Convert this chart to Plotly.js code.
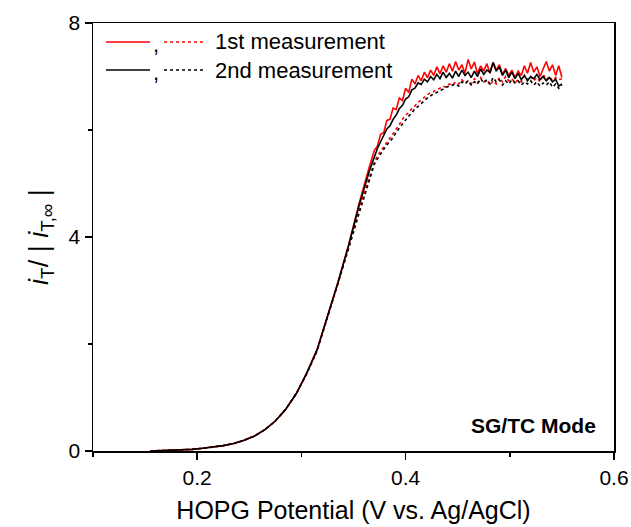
<!DOCTYPE html>
<html>
<head>
<meta charset="utf-8">
<script src="https://cdn.plot.ly/plotly-3.0.1.min.js"></script>
<style>html,body{margin:0;padding:0;background:#fff;}#chart{width:631px;height:527px;}</style>
</head>
<body>
<div id="chart"></div>
<script>
// HOPG potential (V vs. Ag/AgCl)
const potential = [
  0.155,0.165,0.175,0.185,0.195,0.205,0.215,0.225,0.235,0.245,0.255,0.265,0.275,0.285,0.295,0.305,0.315,0.325,0.335,0.345,0.355,0.365,
  0.370,0.373,0.376,0.379,0.382,0.385,0.388,0.391,0.394,0.397,0.400,0.403,0.406,0.409,0.412,0.415,0.418,0.421,0.424,0.427,
  0.430,0.433,0.436,0.439,0.442,0.445,0.448,0.451,0.454,0.457,0.460,0.463,0.466,0.469,0.472,0.475,0.478,0.481,0.484,0.487,
  0.490,0.493,0.496,0.499,0.502,0.505,0.508,0.511,0.514,0.517,0.520,0.523,0.526,0.529,0.532,0.535,0.538,0.541,0.544,0.547,0.550
];
// 1st measurement, solid
const first_solid = [
  0.00,0.005,0.01,0.02,0.03,0.05,0.07,0.10,0.14,0.20,0.28,0.40,0.56,0.78,1.07,1.45,1.89,2.52,3.15,3.83,4.60,5.30,
  5.62,5.70,5.92,5.95,6.18,6.20,6.41,6.38,6.60,6.55,6.78,6.70,6.95,6.86,7.02,6.92,7.08,6.98,7.12,7.02,
  7.18,7.05,7.20,7.08,7.24,7.10,7.28,7.12,7.22,7.06,7.32,7.14,7.27,7.05,7.20,7.10,7.24,7.06,7.26,7.12,
  7.22,7.04,7.15,7.02,7.12,6.98,7.10,7.02,7.20,7.06,7.26,7.08,7.18,7.00,7.14,7.28,7.10,7.22,7.02,7.20,6.98
];
// 1st measurement, dotted
const first_dotted = [
  0.00,0.005,0.01,0.02,0.03,0.05,0.07,0.10,0.14,0.20,0.28,0.40,0.56,0.78,1.07,1.44,1.88,2.50,3.12,3.80,4.48,5.10,
  5.40,5.52,5.60,5.68,5.78,5.84,5.94,6.02,6.10,6.20,6.28,6.32,6.40,6.45,6.52,6.56,6.62,6.66,6.70,6.72,
  6.76,6.78,6.82,6.80,6.86,6.84,6.90,6.86,6.94,6.88,6.92,6.86,6.96,6.88,6.98,6.90,6.94,6.84,6.92,6.86,
  6.98,6.90,7.00,6.92,6.96,6.88,6.94,6.90,7.02,6.94,7.00,6.92,6.98,6.90,7.04,6.94,7.00,6.92,6.98,6.94,6.96
];
// 2nd measurement, solid
const second_solid = [
  0.00,0.005,0.01,0.02,0.03,0.05,0.07,0.10,0.14,0.20,0.28,0.40,0.56,0.78,1.07,1.45,1.89,2.51,3.14,3.82,4.56,5.22,
  5.52,5.66,5.78,5.90,6.02,6.08,6.20,6.28,6.40,6.46,6.58,6.62,6.75,6.78,6.88,6.85,6.95,6.90,7.00,6.94,
  7.04,6.96,7.08,6.98,7.06,6.97,7.10,7.00,7.12,7.02,7.08,6.98,7.10,7.00,7.14,7.04,7.12,7.08,7.26,7.10,
  7.18,7.02,7.12,6.98,7.08,6.96,7.06,6.94,7.02,6.92,7.00,6.96,7.04,6.94,7.00,6.92,6.98,6.90,6.95,6.82,6.86
];
// 2nd measurement, dotted
const second_dotted = [
  0.00,0.005,0.01,0.02,0.03,0.05,0.07,0.10,0.14,0.20,0.28,0.40,0.56,0.78,1.07,1.44,1.87,2.49,3.10,3.76,4.42,5.05,
  5.36,5.46,5.56,5.64,5.72,5.78,5.86,5.96,6.04,6.12,6.18,6.26,6.32,6.40,6.44,6.50,6.54,6.60,6.64,6.68,
  6.70,6.74,6.76,6.80,6.82,6.84,6.86,6.82,6.90,6.86,6.92,6.84,6.90,6.86,6.96,6.88,6.94,6.86,6.98,6.90,
  6.94,6.84,6.92,6.86,6.94,6.88,6.92,6.84,6.90,6.86,6.92,6.84,6.90,6.82,6.88,6.84,6.90,6.80,6.86,6.78,6.84
];
const legendLabels = ["1st measurement", "2nd measurement"];
const modeLabel = "SG/TC Mode";
const xTickVals = [0.2, 0.4, 0.6];
const yTickVals = [0, 4, 8];

const FONT = "Liberation Sans, Arial, sans-serif";
const RED = "#ff0000", BLACK = "#000000";

const traces = [
  {x: potential, y: first_dotted, mode: "lines", line: {color: RED, width: 1.6, dash: "dot"}, showlegend: false},
  {x: potential, y: second_dotted, mode: "lines", line: {color: BLACK, width: 1.6, dash: "dot"}, showlegend: false},
  {x: potential, y: first_solid, mode: "lines", line: {color: RED, width: 1.6}, showlegend: false},
  {x: potential, y: second_solid, mode: "lines", line: {color: BLACK, width: 1.6}, showlegend: false}
];

const L = 93, R = 614, T = 23, B = 451;
const px = v => (v - L) / (R - L);
const py = v => (B - v) / (B - T);

const shapes = [
  {type: "line", xref: "paper", yref: "paper", x0: px(106), x1: px(150), y0: py(42), y1: py(42), line: {color: RED, width: 1.6}},
  {type: "line", xref: "paper", yref: "paper", x0: px(164), x1: px(206), y0: py(42), y1: py(42), line: {color: RED, width: 1.6, dash: "dot"}},
  {type: "line", xref: "paper", yref: "paper", x0: px(106), x1: px(150), y0: py(70), y1: py(70), line: {color: BLACK, width: 1.6}},
  {type: "line", xref: "paper", yref: "paper", x0: px(164), x1: px(206), y0: py(70), y1: py(70), line: {color: BLACK, width: 1.6, dash: "dot"}}
];

const annotations = [
  {xref: "paper", yref: "paper", x: px(151), y: py(45), text: ",", showarrow: false, xanchor: "left", yanchor: "middle", font: {family: FONT, size: 22, color: "#000"}},
  {xref: "paper", yref: "paper", x: px(151), y: py(73), text: ",", showarrow: false, xanchor: "left", yanchor: "middle", font: {family: FONT, size: 22, color: "#000"}},
  {xref: "paper", yref: "paper", x: px(213), y: py(42), text: legendLabels[0], showarrow: false, xanchor: "left", yanchor: "middle", font: {family: FONT, size: 22, color: "#000"}},
  {xref: "paper", yref: "paper", x: px(213), y: py(70), text: legendLabels[1], showarrow: false, xanchor: "left", yanchor: "middle", font: {family: FONT, size: 22, color: "#000"}},
  {xref: "paper", yref: "paper", x: px(598), y: py(425), text: "<b>" + modeLabel + "</b>", showarrow: false, xanchor: "right", yanchor: "middle", font: {family: FONT, size: 21, color: "#000"}}
];

const layout = {
  width: 631, height: 527,
  margin: {l: L, r: 631 - R, t: T, b: 527 - B, pad: 0},
  paper_bgcolor: "#fff", plot_bgcolor: "#fff",
  font: {family: FONT, color: "#000"},
  showlegend: false,
  xaxis: {
    range: [0.1, 0.6], showgrid: false, zeroline: false,
    showline: true, linecolor: "#000", linewidth: 1.5, mirror: true,
    ticks: "outside", ticklen: 7, tickwidth: 1.5, tickcolor: "#000",
    tickvals: xTickVals, ticktext: xTickVals.map(v => v.toFixed(1)),
    tickfont: {family: FONT, size: 21, color: "#000"},
    minor: {tickvals: [0.1, 0.3, 0.5], ticks: "outside", ticklen: 4, tickwidth: 1.5, tickcolor: "#000", showgrid: false},
    title: {text: "HOPG Potential (V vs. Ag/AgCl)", font: {family: FONT, size: 25, color: "#000"}, standoff: 14}
  },
  yaxis: {
    range: [0, 8], showgrid: false, zeroline: false,
    showline: true, linecolor: "#000", linewidth: 1.5, mirror: true,
    ticks: "outside", ticklen: 7, tickwidth: 1.5, tickcolor: "#000",
    tickvals: yTickVals, ticktext: yTickVals.map(String),
    tickfont: {family: FONT, size: 21, color: "#000"},
    minor: {tickvals: [2, 6], ticks: "outside", ticklen: 4, tickwidth: 1.5, tickcolor: "#000", showgrid: false},
    title: {text: "<i>i</i><sub>T</sub>/ | <i>i</i><sub>T,∞</sub> |", font: {family: FONT, size: 27, color: "#000"}, standoff: 12}
  },
  shapes: shapes,
  annotations: annotations
};

Plotly.newPlot("chart", traces, layout, {displayModeBar: false, staticPlot: true});
</script>
</body>
</html>
